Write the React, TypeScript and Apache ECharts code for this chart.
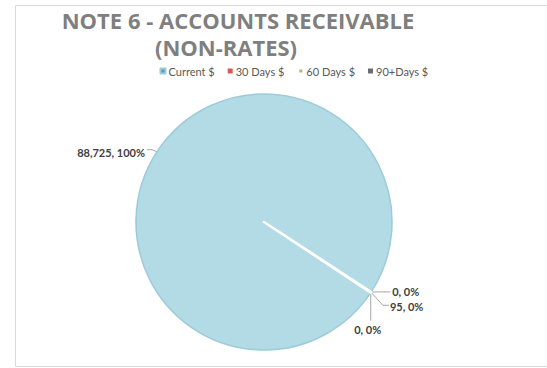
import React, { useEffect, useRef } from "react";
import * as echarts from "echarts";

const categories = ["Current $", "30 Days $", "60 Days $", "90+Days $"];
const values = [88725, 0, 95, 0];
const legendColors = ["#5f93c9", "#d45a57", "#a6c268", "#6f6a7a"];
const titleLine1 = "NOTE 6 - ACCOUNTS RECEIVABLE";
const titleLine2 = "(NON-RATES)";

export default function App() {
  const ref = useRef<HTMLDivElement>(null);
  useEffect(() => {
    if (!ref.current) return;
    const chart = echarts.init(ref.current, undefined, { renderer: "svg" });
    const data = categories.map((name, i) => ({
      name,
      value: values[i],
      itemStyle:
        i === 0
          ? { color: "#b3dbe6", borderColor: "#9ccbd9", borderWidth: 1.5 }
          : i === 2
          ? { color: "#b3dbe6", borderColor: "#ffffff", borderWidth: 2.5 }
          : { color: "#b3dbe6", borderWidth: 0 },
    }));
    const titleStyle = {
      fontFamily: "Open Sans",
      fontWeight: "bold",
      fontSize: 22,
      color: "#7f7f7f",
    };
    chart.setOption({
      animation: false,
      backgroundColor: "#ffffff",
      title: [
        { text: titleLine1, left: 238, top: 9, padding: 0, textAlign: "center", textStyle: titleStyle },
        { text: titleLine2, left: 226, top: 36, padding: 0, textAlign: "center", textStyle: titleStyle },
      ],
      legend: {
        left: 159.5,
        top: 65.5,
        padding: 0,
        itemWidth: 5,
        itemHeight: 5,
        itemGap: 13,
        icon: "rect",
        textStyle: { fontFamily: "Lato", fontSize: 11, color: "#595959", padding: [0, 0, 0, -2] },
        data: categories.map((name, i) => ({ name, itemStyle: { color: legendColors[i] } })),
      },
      graphic: [
        {
          type: "rect",
          shape: { x: 15.5, y: 5.5, width: 700, height: 361 },
          style: { fill: "none", stroke: "#d9d9d9", lineWidth: 1 },
          silent: true,
        },
      ],
      series: [
        {
          type: "pie",
          center: [264, 222],
          radius: 128,
          startAngle: -33.5,
          clockwise: true,
          avoidLabelOverlap: false,
          data,
          label: {
            show: true,
            position: "outside",
            fontFamily: "Lato",
            fontWeight: "bold",
            fontSize: 11,
            color: "#404040",
            formatter: (p: any) =>
              `${Number(p.value).toLocaleString("en-US")}, ${Math.round(p.percent)}%`,
          },
          labelLine: { show: true, length: 6, length2: 6, lineStyle: { color: "#a6a6a6", width: 1 } },
          labelLayout: (params: any) => {
            const pts = params.labelLinePoints;
            if (!pts) return {};
            const ax = pts[0][0];
            const ay = pts[0][1];
            const i = params.dataIndex;
            if (i === 0) {
              return {
                x: ax - 12,
                y: ay + 1,
                align: "right",
                verticalAlign: "middle",
                labelLinePoints: [[ax, ay], [ax - 5, ay - 2], [ax - 10, ay - 2]],
              };
            }
            if (i === 1) {
              return {
                x: ax + 21,
                y: ay,
                align: "left",
                verticalAlign: "middle",
                labelLinePoints: [[ax, ay], [ax + 10, ay], [ax + 19, ay]],
              };
            }
            if (i === 2) {
              return {
                x: ax + 19,
                y: ay + 14,
                align: "left",
                verticalAlign: "middle",
                labelLinePoints: [[ax, ay], [ax + 12, ay + 13], [ax + 18, ay + 13]],
              };
            }
            return {
              x: ax - 3,
              y: ay + 37,
              align: "center",
              verticalAlign: "middle",
              labelLinePoints: [[ax, ay], [ax, ay + 14], [ax, ay + 28]],
            };
          },
        },
      ],
    });
    return () => chart.dispose();
  }, []);
  return (
    <div
      ref={ref}
      style={{ position: "fixed", left: 0, top: 0, width: 547, height: 368 }}
    />
  );
}
